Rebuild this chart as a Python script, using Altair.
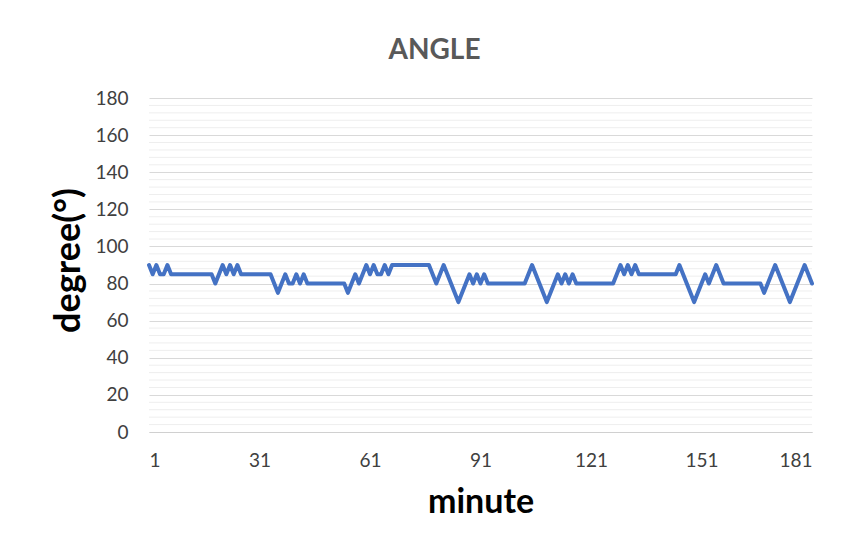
import altair as alt
import pandas as pd

# ---- data ----
minutes = list(range(1, 182))
angle = [
    90, 85, 90, 85, 85, 90, 85,                                  # 1-7
    85, 85, 85, 85, 85, 85, 85, 85, 85, 85, 85,                  # 8-18
    80, 85, 90, 85, 90, 85, 90,                                  # 19-25
    85, 85, 85, 85, 85, 85, 85, 85, 85,                          # 26-34
    80, 75, 80, 85, 80, 80, 85, 80, 85,                          # 35-43
    80, 80, 80, 80, 80, 80, 80, 80, 80, 80, 80,                  # 44-54
    75, 80, 85, 80, 85, 90, 85, 90, 85, 85, 90, 85,              # 55-66
    90, 90, 90, 90, 90, 90, 90, 90, 90, 90, 90,                  # 67-77
    85, 80, 85, 90, 85, 80, 75, 70, 75, 80, 85, 80, 85, 80, 85,  # 78-92
    80, 80, 80, 80, 80, 80, 80, 80, 80, 80, 80,                  # 93-103
    85, 90, 85, 80, 75, 70, 75, 80, 85, 80, 85, 80, 85,          # 104-116
    80, 80, 80, 80, 80, 80, 80, 80, 80, 80, 80,                  # 117-127
    85, 90, 85, 90, 85, 90,                                      # 128-133
    85, 85, 85, 85, 85, 85, 85, 85, 85, 85, 85,                  # 134-144
    90, 85, 80, 75, 70, 75, 80, 85, 80, 85, 90, 85,              # 145-156
    80, 80, 80, 80, 80, 80, 80, 80, 80, 80, 80,                  # 157-167
    75, 80, 85, 90, 85, 80, 75, 70, 75, 80, 85, 90, 85, 80,      # 168-181
]
x_ticks = [1, 31, 61, 91, 121, 151, 181]
y_major = [0, 20, 40, 60, 80, 100, 120, 140, 160, 180]
y_minor = [v for v in range(0, 181, 4) if v % 20]

df = pd.DataFrame({"minute": minutes, "angle": angle})
minor_df = pd.DataFrame({"v": y_minor})

FONT = "Lato"
W, H = 663, 334
LABEL_COLOR = "#404040"

yscale = alt.Scale(domain=[0, 180], nice=False, zero=True)
yaxis = alt.Axis(
    values=y_major, title="degree(°)", grid=True, gridColor="#d9d9d9",
    gridWidth=1, ticks=False, domain=False,
    labelFontSize=19, labelColor=LABEL_COLOR, labelPadding=21,
    labelFont=FONT,
    titleFont=FONT, titleFontSize=36, titleFontWeight="bold",
    titleColor="#000000", titleX=-81, titleY=H / 2 - 5,
    titleAngle=270, titleBaseline="middle",
)

minor = alt.Chart(minor_df).mark_rule(color="#eeeeee", strokeWidth=1).encode(
    y=alt.Y("v:Q", scale=yscale, axis=yaxis)
)

line = alt.Chart(df).mark_line(
    color="#4472C4", strokeWidth=4, strokeJoin="round", strokeCap="round"
).encode(
    x=alt.X(
        "minute:Q",
        scale=alt.Scale(domain=[1, 181], nice=False, zero=False),
        axis=alt.Axis(
            values=x_ticks, title="minute", grid=False, ticks=False,
            domain=True, domainColor="#d0d0d0", domainWidth=1,
            labelFontSize=19, labelColor=LABEL_COLOR, labelPadding=19,
            labelFont=FONT,
            titleFont=FONT, titleFontSize=34, titleFontWeight="bold",
            titleColor="#000000", titleX=W / 2, titleY=70,
            titleBaseline="middle",
        ),
    ),
    y=alt.Y("angle:Q", scale=yscale, axis=yaxis),
)

chart = alt.layer(minor, line).properties(
    width=W,
    height=H,
    title=alt.TitleParams(
        text="ANGLE", fontSize=28, fontWeight="bold", color="#595959",
        font=FONT, anchor="middle", offset=24, dx=-46,
    ),
    autosize=alt.AutoSizeParams(type="none"),
    padding={"left": 149, "top": 98, "right": 29, "bottom": 112},
).configure(font=FONT, background="white").configure_view(stroke=None)

chart.save("out.html", embed_options={"renderer": "svg", "actions": False})
